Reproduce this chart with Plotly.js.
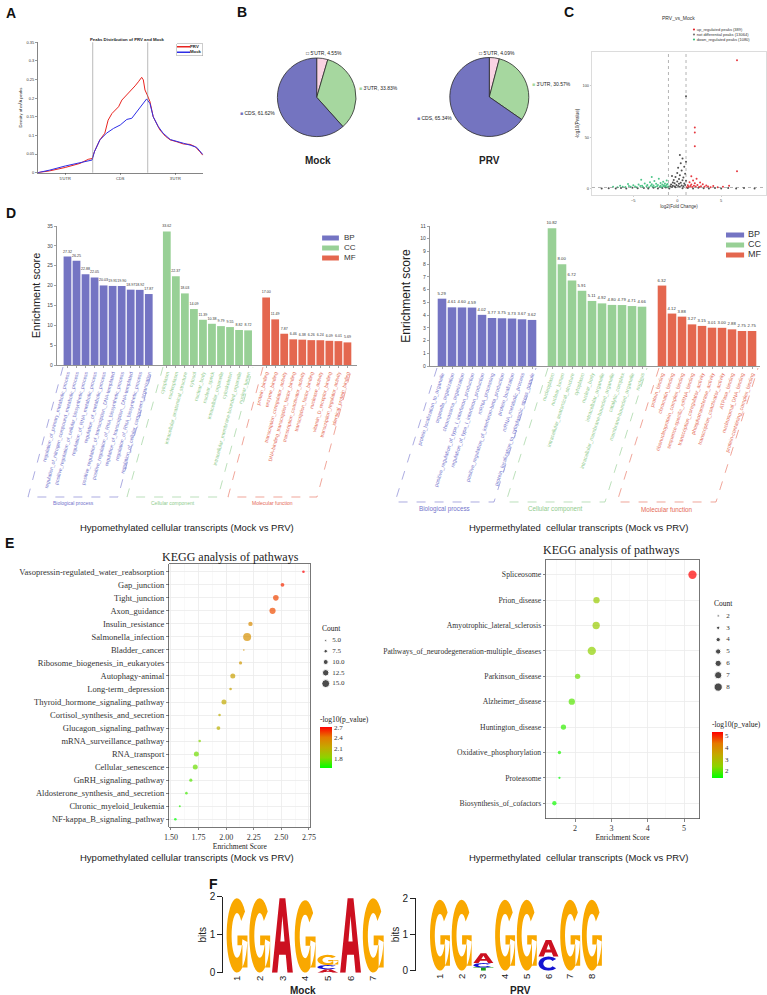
<!DOCTYPE html>
<html lang="en">
<head>
<meta charset="UTF-8">
<title>m6A peak figure</title>
<script src="https://cdn.plot.ly/plotly-3.0.1.min.js"></script>
<style>
  body { margin: 0; background: #fff; }
  #plot { width: 767px; height: 995px; }
</style>
</head>
<body>
<div id="plot"></div>
<script>
// ---------- data ----------
// A: peak density along transcript (0-1 5'UTR, 1-2 CDS, 2-3 3'UTR)
const regionLabels = ["5'UTR", 'CDS', "3'UTR"];
const regionEdges = [0, 1, 2, 3];
const prvX = [0, 0.22, 0.50, 0.77, 0.92, 0.99, 1.03, 1.13, 1.22, 1.28, 1.35, 1.41, 1.47, 1.53, 1.59, 1.65, 1.71, 1.77, 1.83, 1.89, 1.92, 1.95, 1.99, 2.04, 2.10, 2.16, 2.22, 2.32, 2.41, 2.53, 2.65, 2.77, 2.86, 2.95, 3.0];
const prvY = [0, 0.005, 0.014, 0.025, 0.036, 0.038, 0.056, 0.088, 0.106, 0.141, 0.159, 0.168, 0.177, 0.195, 0.204, 0.213, 0.224, 0.233, 0.244, 0.256, 0.249, 0.222, 0.209, 0.191, 0.150, 0.132, 0.115, 0.098, 0.088, 0.083, 0.077, 0.076, 0.070, 0.056, 0.047];
const mockX = [0, 0.22, 0.50, 0.77, 0.99, 1.03, 1.13, 1.25, 1.38, 1.50, 1.62, 1.71, 1.80, 1.89, 1.98, 2.04, 2.10, 2.19, 2.28, 2.41, 2.53, 2.65, 2.77, 2.89, 3.0];
const mockY = [0, 0.007, 0.018, 0.027, 0.034, 0.056, 0.088, 0.106, 0.119, 0.128, 0.143, 0.146, 0.164, 0.179, 0.198, 0.186, 0.150, 0.124, 0.106, 0.089, 0.083, 0.079, 0.074, 0.068, 0.049];
const aKeyNames = ['PRV', 'Mock'];

// B: peak location share (%)
const pieLabels = ["5'UTR", "3'UTR", 'CDS'];
const mockPie = [4.55, 33.83, 61.62];
const prvPie = [4.09, 30.57, 65.34];

// C: volcano, [log2FC, -log10 p]
const downPts = [[-6.8,1.5],[-6.2,2.1],[-5.9,1.7],[-5.5,2.8],[-5.3,1.9],[-5.0,3.4],[-4.8,2.2],[-4.6,1.6],[-4.4,4.1],[-4.2,2.7],[-4.0,3.0],[-3.9,1.8],[-3.7,5.2],[-3.5,2.4],[-3.4,3.7],[-3.2,1.6],[-3.1,6.3],[-3.0,2.9],[-2.9,4.4],[-2.8,2.0],[-2.7,3.3],[-2.6,7.5],[-2.5,1.7],[-2.4,4.9],[-2.3,2.6],[-2.2,3.8],[-2.1,9.8],[-2.0,2.1],[-1.9,5.6],[-1.9,3.0],[-1.8,1.5],[-1.7,4.2],[-1.6,2.4],[-1.6,6.8],[-1.5,3.5],[-1.4,1.9],[-1.4,5.1],[-1.3,2.7],[-1.2,8.2],[-1.2,3.9],[-1.1,1.6],[-1.1,4.6],[-1.0,2.2],[-2.9,11.5],[-4.1,8.9],[-5.6,4.8],[-6.5,3.1],[-7.3,2.0]];
const flatPts = [[-8.6,0.3],[-7.8,0.6],[-7.0,0.2],[-6.4,0.9],[-5.8,0.4],[-5.1,1.1],[-4.5,0.5],[-3.8,0.8],[-3.3,0.2],[-2.7,1.0],[-2.2,0.4],[-1.7,0.7],[-1.3,1.2],[-0.9,0.3],[-0.8,2.5],[-0.7,4.1],[-0.6,1.8],[-0.5,6.2],[-0.5,3.0],[-0.4,8.5],[-0.3,2.2],[-0.3,5.4],[-0.2,11.6],[-0.2,1.5],[-0.1,3.8],[0.0,7.1],[0.0,15.3],[0.1,2.7],[0.1,20.4],[0.2,4.9],[0.2,9.6],[0.3,1.9],[0.3,13.2],[0.4,24.8],[0.4,6.0],[0.5,3.3],[0.5,17.9],[0.6,8.3],[0.6,29.5],[0.7,2.4],[0.7,11.0],[0.8,5.2],[0.8,21.5],[0.9,3.6],[0.9,14.7],[1.0,90.0],[1.0,26.3],[1.0,7.8],[0.6,0.5],[1.2,0.9],[1.8,0.3],[2.4,1.1],[3.0,0.6],[3.6,0.2],[4.3,0.9],[5.0,0.4],[5.8,0.7],[6.7,0.3],[7.6,0.8],[8.8,0.2],[-0.6,12.4],[0.3,33.0]];
const upPts = [[1.1,1.6],[1.2,3.4],[1.3,2.1],[1.4,6.5],[1.5,2.8],[1.6,4.2],[1.7,1.8],[1.8,8.1],[1.9,3.1],[2.0,5.4],[2.1,2.3],[2.2,9.7],[2.3,3.8],[2.5,1.7],[2.6,6.1],[2.7,2.6],[2.9,4.5],[3.1,1.9],[3.3,3.2],[3.5,2.2],[3.8,1.6],[4.1,2.7],[4.6,1.5],[5.2,2.0],[2.0,59.6],[2.0,54.8],[2.0,41.3],[6.8,125.0],[6.8,17.0],[1.6,12.3],[5.9,3.1]];
const volcanoNames = ['up_regulated peaks (389)', 'not differential peaks (13064)', 'down_regulated peaks (1080)'];
const fcCut = [-1, 1];
const pCut = 1.3;

// D: GO enrichment
const goTypes = ['BP', 'CC', 'MF'];
const goGroupNames = ['Biological process', 'Cellular component', 'Molecular function'];
const hypoBP = [27.32, 26.25, 22.88, 22.05, 20.03, 19.91, 19.90, 18.97, 18.92, 17.87];
const hypoCC = [33.62, 22.37, 18.03, 14.09, 11.39, 10.38, 9.79, 9.55, 8.82, 8.72];
const hypoMF = [17.00, 11.49, 7.87, 6.46, 6.38, 6.26, 6.24, 6.09, 6.01, 5.69];
const hypoBPTerms = ['regulation_of_primary_metabolic_process', 'regulation_of_nitrogen_compound_metabolic_process', 'positive_regulation_of_cellular_biosynthetic_process', 'regulation_of_RNA_metabolic_process', 'regulation_of_metabolic_process', 'positive_regulation_of_transcription,_DNA-templated', 'positive_regulation_of_RNA_biosynthetic_process', 'regulation_of_transcription,_DNA-templated', 'regulation_of_RNA_biosynthetic_process', 'regulation_of_cellular_component_organization'];
const hypoCCTerms = ['cytoplasm', 'nucleoplasm', 'intracellular_anatomical_structure', 'cytosol', 'nuclear_body', 'nuclear_speck', 'intracellular_organelle', 'cytoskeleton', 'intracellular_membrane-bounded_organelle', 'nuclear_lumen'];
const hypoMFTerms = ['protein_binding', 'enzyme_binding', 'transcription_coregulator_activity', 'DNA-binding_transcription_factor_binding', 'transcription_coactivator_activity', 'transcription_factor_binding', 'nuclease_activity', 'vitamin_D_receptor_binding', 'transcription_regulator_activity', 'identical_protein_binding'];
const hyperBP = [5.29, 4.61, 4.60, 4.59, 4.02, 3.77, 3.75, 3.73, 3.67, 3.62];
const hyperCC = [10.82, 8.00, 6.72, 5.91, 5.11, 4.92, 4.80, 4.79, 4.71, 4.66];
const hyperMF = [6.32, 4.12, 3.88, 3.27, 3.15, 3.01, 3.00, 2.88, 2.75, 2.75];
const hyperBPTerms = ['protein_localization_to_organelle', 'organelle_organization', 'chromosome_organization', 'positive_regulation_of_type_I_interferon_production', 'regulation_of_type_I_interferon_production', 'mRNA_processing', 'positive_regulation_of_interferon-beta_production', 'protein_localization', 'mRNA_metabolic_process', 'protein_localization_to_cytoplasmic_stress_granule'];
const hyperCCTerms = ['nucleoplasm', 'nuclear_lumen', 'intracellular_anatomical_structure', 'cytoplasm', 'nuclear_body', 'intracellular_organelle', 'intracellular_membrane-bounded_organelle', 'catalytic_complex', 'membrane-bounded_organelle', 'nucleus'];
const hyperMFTerms = ['protein_binding', 'chromatin_binding', 'ribonucleoprotein_complex_binding', 'sequence-specific_mRNA_binding', 'transcription_coregulator_activity', 'phosphotransferase_activity', 'transcription_coactivator_activity', 'ATPase_binding', 'nucleosomal_DNA_binding', 'protein-containing_complex_binding'];

// E: KEGG dot plots
const hypoPathways = ['Vasopressin-regulated_water_reabsorption', 'Gap_junction', 'Tight_junction', 'Axon_guidance', 'Insulin_resistance', 'Salmonella_infection', 'Bladder_cancer', 'Ribosome_biogenesis_in_eukaryotes', 'Autophagy-animal', 'Long-term_depression', 'Thyroid_hormone_signaling_pathway', 'Cortisol_synthesis_and_secretion', 'Glucagon_signaling_pathway', 'mRNA_surveillance_pathway', 'RNA_transport', 'Cellular_senescence', 'GnRH_signaling_pathway', 'Aldosterone_synthesis_and_secretion', 'Chronic_myeloid_leukemia', 'NF-kappa_B_signaling_pathway'];
const hypoScore = [2.70, 2.51, 2.45, 2.42, 2.22, 2.19, 2.16, 2.13, 2.06, 2.04, 1.98, 1.94, 1.93, 1.76, 1.73, 1.72, 1.68, 1.64, 1.58, 1.54];
const hypoCount = [6, 8, 11, 12, 9, 15, 4, 7, 10, 6, 10, 6, 8, 6, 10, 10, 7, 6, 5, 6];
const hypoLogP = [2.72, 2.62, 2.55, 2.53, 2.32, 2.28, 2.27, 2.24, 2.18, 2.17, 2.12, 2.09, 2.08, 1.80, 1.76, 1.75, 1.70, 1.66, 1.60, 1.52];
const hypoCountKey = [5, 7.5, 10, 12.5, 15];
const hyperPathways = ['Spliceosome', 'Prion_disease', 'Amyotrophic_lateral_sclerosis', 'Pathways_of_neurodegeneration-multiple_diseases', 'Parkinson_disease', 'Alzheimer_disease', 'Huntington_disease', 'Oxidative_phosphorylation', 'Proteasome', 'Biosynthesis_of_cofactors'];
const hyperScore = [5.23, 2.59, 2.58, 2.46, 2.07, 1.91, 1.68, 1.57, 1.57, 1.43];
const hyperCount = [8, 6, 7, 8, 5, 6, 5, 3, 2, 4];
const hyperLogP = [5.33, 2.62, 2.60, 2.45, 2.15, 2.0, 1.75, 1.6, 1.4, 1.5];
const hyperCountKey = [2, 3, 4, 5, 6, 7, 8];

// F: motif logos (bits per letter and position)
const mockLogo = {
  A: [0, 0, 1.96, 0, 0.09, 1.96, 0],
  C: [0, 0, 0, 0, 0.11, 0, 0],
  G: [1.96, 1.96, 0, 1.91, 0.27, 0, 1.96],
  T: [0, 0, 0, 0, 0, 0, 0]
};
const prvLogo = {
  A: [0, 0, 0.27, 0, 0, 0.46, 0, 0],
  C: [0, 0, 0.12, 0, 0, 0.39, 0, 0],
  G: [1.96, 1.96, 0, 1.96, 1.96, 0, 1.96, 1.96],
  T: [0, 0, 0.09, 0, 0, 0, 0, 0]
};

// ---------- helpers ----------
const W = 767, H = 995;
const SANS = "'Liberation Sans', Arial, sans-serif";
const SERIF = "'Liberation Serif', 'Times New Roman', serif";
const fx = p => p / W;
const fy = p => 1 - p / H;
const dx = (a, b) => [fx(a), fx(b)];
const dy = (top, bottom) => [fy(bottom), fy(top)];

const red = '#E8231F', blue = '#2E2EE6';
const goColors = ['#7474C3', '#98D096', '#E4674F'];
const goTextColors = ['#7474CC', '#8FCB8D', '#E56A55'];
const pieColors = ['#F9D3E3', '#A6D79F', '#7474C0'];
const keggScale = [[0, '#00FF00'], [0.25, '#8CD400'], [0.5, '#C2AA00'], [0.75, '#E57A00'], [1, '#FF0000']];
const letterColors = {A: '#CC1020', C: '#1414D2', G: '#F9A800', T: '#13A013'};

const layout = {
  width: W, height: H, autosize: false,
  margin: {l: 0, r: 0, t: 0, b: 0, pad: 0},
  paper_bgcolor: '#fff', plot_bgcolor: '#fff',
  barmode: 'overlay', showlegend: false,
  font: {family: SANS, color: '#222'},
  shapes: [], annotations: []
};
const id = n => n === 1 ? '' : String(n);
function axis(domain, range, extra) {
  return Object.assign({domain: domain, range: range, showgrid: false, zeroline: false,
    showline: false, ticks: '', showticklabels: false, fixedrange: true}, extra || {});
}
function setPair(n, xa, ya) {
  layout['xaxis' + id(n)] = Object.assign({anchor: 'y' + id(n)}, xa);
  layout['yaxis' + id(n)] = Object.assign({anchor: 'x' + id(n)}, ya);
}
function note(text, x, y, opts) {
  layout.annotations.push(Object.assign({text: text, x: fx(x), y: fy(y), xref: 'paper', yref: 'paper',
    showarrow: false, xanchor: 'center', yanchor: 'middle', font: {family: SANS, size: 10, color: '#1a1a1a'}}, opts || {}));
}
const traces = [];

// ---------- A ----------
const regionMid = regionLabels.map((_, i) => (regionEdges[i] + regionEdges[i + 1]) / 2);
const thin = {showline: true, linecolor: '#333', linewidth: 0.6, ticks: 'outside', ticklen: 2, tickwidth: 0.5, tickcolor: '#333', showticklabels: true};
setPair(1,
  axis(dx(37.7, 203.3), [0, 3.01], Object.assign({}, thin, {tickvals: regionMid, ticktext: regionLabels, tickfont: {size: 4, color: '#333'}})),
  axis(dy(42.3, 172.7), [0, 0.35], Object.assign({}, thin, {dtick: 0.05, tickfont: {size: 4, color: '#333'},
    title: {text: 'Density of m<sup>6</sup>A peaks', font: {size: 4.2}, standoff: 3}})));
traces.push({x: prvX, y: prvY, xaxis: 'x', yaxis: 'y', mode: 'lines', line: {color: red, width: 1}, hoverinfo: 'skip'});
traces.push({x: mockX, y: mockY, xaxis: 'x', yaxis: 'y', mode: 'lines', line: {color: blue, width: 1}, hoverinfo: 'skip'});
regionEdges.slice(1, -1).forEach(e => layout.shapes.push({type: 'line', xref: 'x', yref: 'y domain', x0: e, x1: e, y0: 0, y1: 1, line: {color: '#8a8a8a', width: 0.6}}));
note('<b>Peaks Distribution of PRV and Mock</b>', 127, 39, {font: {family: SANS, size: 4.3, color: '#222'}});
// A key
const boxLine = {showline: true, mirror: true, linecolor: '#999', linewidth: 0.5};
setPair(2, axis(dx(177, 202), [0, 1], boxLine), axis(dy(43.5, 55.5), [1.6, -0.6], boxLine));
traces.push({x: aKeyNames.map(() => 0.24), y: aKeyNames.map((_, i) => i), xaxis: 'x2', yaxis: 'y2', mode: 'markers',
  marker: {symbol: 'line-ew', size: 10, line: {color: [red, blue], width: 1.3}}, hoverinfo: 'skip'});
traces.push({x: aKeyNames.map(() => 0.52), y: aKeyNames.map((_, i) => i), xaxis: 'x2', yaxis: 'y2', mode: 'text',
  text: aKeyNames.map(t => '<b>' + t + '</b>'), textposition: 'middle right', textfont: {size: 4.3, color: '#222'}, hoverinfo: 'skip'});

// ---------- B ----------
function pieTrace(values, xd, yd) {
  return {type: 'pie', labels: pieLabels, values: values, sort: false, direction: 'clockwise', rotation: 0,
    domain: {x: xd, y: yd}, marker: {colors: pieColors, line: {color: '#2a2a2a', width: 0.8}},
    textinfo: 'none', hoverinfo: 'label+percent', showlegend: false};
}
traces.push(pieTrace(mockPie, dx(277.4, 356), dy(58, 136.6)));
traces.push(pieTrace(prvPie, dx(449.8, 528.8), dy(57.5, 136.5)));
function pieNote(values, i, x, y, anchor) {
  const sq = '<span style="color:' + pieColors[i] + '">■</span>';
  const txt = (i === 0 ? '□' : sq) + ' ' + pieLabels[i] + ', ' + values[i].toFixed(2) + '%';
  note(txt, x, y, {xanchor: anchor, font: {family: SANS, size: 5, color: '#222'}});
}
pieNote(mockPie, 0, 304, 53.5, 'left');
pieNote(mockPie, 1, 357, 88, 'left');
pieNote(mockPie, 2, 277, 113, 'right');
pieNote(prvPie, 0, 477, 53.5, 'left');
pieNote(prvPie, 1, 530, 84, 'left');
pieNote(prvPie, 2, 454, 117.5, 'right');
note('<b>Mock</b>', 318, 160, {font: {family: SANS, size: 10, color: '#222'}});
note('<b>PRV</b>', 489, 160, {font: {family: SANS, size: 10, color: '#222'}});

// ---------- C ----------
const frameC = {showline: true, mirror: true, linecolor: '#c4c4c4', linewidth: 0.6, ticks: 'outside', ticklen: 1.5,
  tickcolor: '#999', tickwidth: 0.5, showticklabels: true};
setPair(3,
  axis(dx(592, 766), [-9.7, 10.1], Object.assign({}, frameC, {tickvals: [-5, 0, 5], tickfont: {size: 4, color: '#444'},
    title: {text: 'log2(Fold Change)', font: {size: 4.5, color: '#333'}, standoff: 2}})),
  axis(dy(52, 195), [-6, 133], Object.assign({}, frameC, {tickvals: [0, 50, 100], tickfont: {size: 4, color: '#444'},
    title: {text: '-log10(Pvalue)', font: {size: 4.5, color: '#333'}, standoff: 2}})));
const volcanoSets = [[flatPts, '#3d3d3d'], [downPts, '#3CBF7C'], [upPts, '#E3242B']];
volcanoSets.forEach(([pts, col]) => traces.push({x: pts.map(p => p[0]), y: pts.map(p => p[1]), xaxis: 'x3', yaxis: 'y3',
  mode: 'markers', marker: {size: 2, color: col, opacity: 0.9}, hoverinfo: 'skip'}));
fcCut.forEach(c => layout.shapes.push({type: 'line', xref: 'x3', yref: 'y3 domain', x0: c, x1: c, y0: 0, y1: 1, line: {color: '#666', width: 0.5, dash: 'dot'}}));
layout.shapes.push({type: 'line', xref: 'x3 domain', yref: 'y3', x0: 0, x1: 1, y0: pCut, y1: pCut, line: {color: '#666', width: 0.5, dash: 'dot'}});
note('PRV_vs_Mock', 678, 18, {font: {family: SANS, size: 5, color: '#333'}});
setPair(4, axis(dx(690, 765), [0, 1]), axis(dy(27, 42), [2.5, -0.5]));
traces.push({x: volcanoNames.map(() => 0.053), y: volcanoNames.map((_, i) => i), xaxis: 'x4', yaxis: 'y4', mode: 'markers',
  marker: {size: 2.2, color: ['#E3242B', '#777', '#3CBF7C']}, hoverinfo: 'skip'});
traces.push({x: volcanoNames.map(() => 0.09), y: volcanoNames.map((_, i) => i), xaxis: 'x4', yaxis: 'y4', mode: 'text',
  text: volcanoNames, textposition: 'middle right', textfont: {size: 4, color: '#333'}, hoverinfo: 'skip'});

// ---------- D ----------
function goPanel(n, vals, terms, xDom, xRange, yDom, yMax, angle, labelSize, valSize, titleSize, standoff) {
  const tickvals = [], ticktext = [];
  goTypes.forEach((g, gi) => {
    const xs = vals[gi].map((_, i) => gi * 11 + i);
    xs.forEach((x, i) => { tickvals.push(x); ticktext.push('<span style="color:' + goTextColors[gi] + '">' + terms[gi][i] + '</span>'); });
    traces.push({type: 'bar', x: xs, y: vals[gi], xaxis: 'x' + n, yaxis: 'y' + n, width: 0.86,
      marker: {color: goColors[gi], line: {width: 0}}, text: vals[gi].map(v => v.toFixed(2)), textposition: 'outside',
      textangle: 0, constraintext: 'none', cliponaxis: false, textfont: {size: valSize, family: SANS, color: '#333'}, hoverinfo: 'y'});
  });
  const ln = {showline: true, linecolor: '#666', linewidth: 0.7, ticks: 'outside', ticklen: 2.5, tickwidth: 0.6, tickcolor: '#666', showticklabels: true};
  setPair(n,
    axis(xDom, xRange, Object.assign({}, ln, {tickvals: tickvals, ticktext: ticktext, tickangle: angle, tickfont: {size: labelSize, family: SANS}})),
    axis(yDom, [0, yMax], Object.assign({}, ln, {dtick: yMax > 20 ? 5 : 1, tickfont: {size: 5, color: '#444'},
      title: {text: 'Enrichment score', font: {size: titleSize, color: '#222'}, standoff: standoff}})));
}
goPanel(5, [hypoBP, hypoCC, hypoMF], [hypoBPTerms, hypoCCTerms, hypoMFTerms], dx(57, 357), [-1.16, 32.06], dy(226, 365), 35, -75, 5, 3.6, 11, 4);
goPanel(7, [hyperBP, hyperCC, hyperMF], [hyperBPTerms, hyperCCTerms, hyperMFTerms], dx(430, 760), [-1.2, 31.8], dy(226, 366), 11, -72, 5.2, 4.2, 12, 6);
function goKey(n, xDom, yDom, xMark, xText, size, fontSize) {
  setPair(n, axis(xDom, [0, 1]), axis(yDom, [2.5, -0.5]));
  traces.push({x: goTypes.map(() => xMark), y: goTypes.map((_, i) => i), xaxis: 'x' + n, yaxis: 'y' + n, mode: 'markers',
    marker: {symbol: 'line-ew', size: size, line: {color: goColors, width: 5}}, hoverinfo: 'skip'});
  traces.push({x: goTypes.map(() => xText), y: goTypes.map((_, i) => i), xaxis: 'x' + n, yaxis: 'y' + n, mode: 'text',
    text: goTypes, textposition: 'middle right', textfont: {size: fontSize, color: '#333'}, hoverinfo: 'skip'});
}
goKey(6, dx(322, 372), dy(233, 263), 0.17, 0.44, 12, 8);
goKey(8, dx(726, 766), dy(230, 260), 0.225, 0.55, 13, 9);
// dashed label boxes
function goBoxes(boxes, nameY, nameSize) {
  boxes.forEach((b, gi) => {
    layout.shapes.push({type: 'path', xref: 'paper', yref: 'paper',
      path: 'M' + b.map(p => fx(p[0]).toFixed(5) + ',' + fy(p[1]).toFixed(5)).join('L'),
      line: {color: goTextColors[gi], width: 0.6, dash: 'dash'}});
    note(goGroupNames[gi], (b[1][0] + b[2][0]) / 2, nameY, {font: {family: SANS, size: nameSize, color: goTextColors[gi]}});
  });
}
goBoxes([[[63, 367], [28, 497], [118, 497], [153, 367]], [[163, 367], [127, 497], [218, 497], [253, 367]], [[263, 367], [228, 497], [317, 497], [352, 367]]], 503, 5);
goBoxes([[[437, 368], [395, 502], [494, 502], [536, 368]], [[548, 368], [506, 502], [605, 502], [647, 368]], [[659, 368], [617, 502], [716, 502], [758, 368]]], 509, 6.3);
note('Hypomethylated cellular transcripts (Mock vs PRV)', 187, 527, {font: {family: SANS, size: 9.5, color: '#1a1a1a'}});
note('Hypermethylated  cellular transcripts (Mock vs PRV)', 578, 527, {font: {family: SANS, size: 9.5, color: '#1a1a1a'}});

// ---------- E ----------
function keggPanel(n, names, score, count, logp, sizeFn, xDom, xRange, yDom, tick0, dtick, fmt, labelSize, cmin, cmax, cb) {
  const frame = {showline: true, mirror: true, linecolor: '#555', linewidth: 0.8, showgrid: true, gridcolor: '#EBEBEB', gridwidth: 0.8,
    ticks: 'outside', ticklen: 2.5, tickwidth: 0.6, tickcolor: '#333', showticklabels: true};
  setPair(n,
    axis(xDom, xRange, Object.assign({}, frame, {tick0: tick0, dtick: dtick, tickformat: fmt,
      minor: {tick0: tick0, dtick: dtick / 2, showgrid: true, gridcolor: '#F3F3F3', gridwidth: 0.5, ticks: ''},
      tickfont: {family: SERIF, size: 8, color: '#333'}, title: {text: 'Enrichment Score', font: {family: SERIF, size: 7.5, color: '#222'}, standoff: 2}})),
    axis(yDom, [names.length - 0.4, -0.6], Object.assign({}, frame, {tickvals: names.map((_, i) => i), ticktext: names,
      tickfont: {family: SERIF, size: labelSize, color: '#333'}})));
  traces.push({x: score, y: names.map((_, i) => i), xaxis: 'x' + n, yaxis: 'y' + n, mode: 'markers', cliponaxis: false,
    marker: {size: count.map(sizeFn), color: logp, colorscale: keggScale, cmin: cmin, cmax: cmax, showscale: true, line: {width: 0},
      colorbar: Object.assign({xanchor: 'left', yanchor: 'middle', lenmode: 'pixels', thicknessmode: 'pixels', xpad: 0, ypad: 0,
        outlinewidth: 0, ticks: '', tickfont: {family: SERIF, size: 7, color: '#333'},
        title: {text: '-log10(p_value)', side: 'top', font: {family: SERIF, size: 7.5, color: '#222'}}}, cb)},
    hoverinfo: 'x+y'});
}
const hypoSize = c => Math.max(1.6, 2 + (c - 5) * 0.6);
const hyperSize = c => c + 0.3;
keggPanel(9, hypoPathways, hypoScore, hypoCount, hypoLogP, hypoSize, dx(169.3, 310.3), [1.485, 2.762], dy(564, 827), 1.5, 0.25, '.2f', 8.5, 1.52, 2.72,
  {x: fx(320), y: fy(740.5), len: 55, thickness: 12, tickvals: [1.8, 2.1, 2.4, 2.7]});
keggPanel(11, hyperPathways, hyperScore, hyperCount, hyperLogP, hyperSize, dx(546, 699), [1.2, 5.41], dy(559.5, 818.5), 2, 1, 'd', 7.7, 1.4, 5.33,
  {x: fx(712), y: fy(748), len: 60, thickness: 11, tickvals: [2, 3, 4, 5]});
function countKey(n, counts, sizeFn, labels, xDom, yDom, xMin, xText) {
  setPair(n, axis(xDom, [xMin, 1]), axis(yDom, [counts.length - 0.5, -0.5]));
  traces.push({x: counts.map(() => 0), y: counts.map((_, i) => i), xaxis: 'x' + n, yaxis: 'y' + n, mode: 'markers',
    marker: {size: counts.map(sizeFn), color: '#000'}, hoverinfo: 'skip'});
  traces.push({x: counts.map(() => xText), y: counts.map((_, i) => i), xaxis: 'x' + n, yaxis: 'y' + n, mode: 'text',
    text: labels, textposition: 'middle right', textfont: {family: SERIF, size: 7, color: '#333'}, hoverinfo: 'skip'});
}
countKey(10, hypoCountKey, hypoSize, hypoCountKey.map(c => c.toFixed(1)), dx(322, 372), dy(635, 689), -0.08, 0.14);
countKey(12, hyperCountKey, hyperSize, hyperCountKey.map(String), dx(714, 760), dy(610, 693), -0.1, 0.19);
note('Count', 320, 628, {xanchor: 'left', font: {family: SERIF, size: 7.5, color: '#222'}});
note('Count', 712, 603, {xanchor: 'left', font: {family: SERIF, size: 7.5, color: '#222'}});
note('KEGG analysis of pathways', 230, 557, {font: {family: SERIF, size: 12, color: '#222'}});
note('KEGG analysis of pathways', 611, 550, {font: {family: SERIF, size: 12, color: '#222'}});
note('Hypomethylated cellular transcripts (Mock vs PRV)', 187, 857, {font: {family: SANS, size: 9.5, color: '#1a1a1a'}});
note('Hypermethylated  cellular transcripts (Mock vs PRV)', 578, 857, {font: {family: SANS, size: 9.5, color: '#1a1a1a'}});

// ---------- F ----------
function arc(cx, cy, rx, ry, a0, a1, steps) {
  const pts = [];
  for (let k = 0; k <= steps; k++) {
    const a = (a0 + (a1 - a0) * k / steps) * Math.PI / 180;
    pts.push([cx + rx * Math.cos(a), cy + ry * Math.sin(a)]);
  }
  return pts;
}
// letter outlines in a unit box
const glyphs = {
  A: [[[0, 0], [0.36, 1], [0.64, 1], [1, 0], [0.74, 0], [0.66, 0.24], [0.34, 0.24], [0.26, 0]], [[0.4, 0.42], [0.6, 0.42], [0.5, 0.76]]],
  C: [arc(0.5, 0.5, 0.5, 0.5, 40, 320, 28).concat(arc(0.5, 0.5, 0.26, 0.3, 320, 40, 24))],
  G: [arc(0.5, 0.5, 0.5, 0.5, 40, 350, 30).concat(arc(0.5, 0.5, 0.26, 0.3, 350, 40, 24)),
      [[0.52, 0.5], [0.52, 0.37], [0.76, 0.37], [0.76, 0.07], [1, 0.07], [1, 0.5]]],
  T: [[[0, 1], [1, 1], [1, 0.84], [0.62, 0.84], [0.62, 0], [0.38, 0], [0.38, 0.84], [0, 0.84]]]
};
function logo(n, heights, xDom, xRange, yDom, name, nameX) {
  const npos = heights.A.length;
  const positions = heights.A.map((_, i) => i + 1);
  setPair(n,
    axis(xDom, xRange, {showticklabels: true, tickvals: positions, ticktext: positions.map(String), tickangle: -90,
      tickfont: {size: 9.5, family: SANS, color: '#222'}}),
    axis(yDom, [0, 2], {showline: true, linecolor: '#222', linewidth: 1, ticks: 'outside', ticklen: 5, tickwidth: 1, tickcolor: '#222',
      showticklabels: true, tickvals: [0, 1, 2], tickfont: {size: 10, color: '#222'}, title: {text: 'bits', font: {size: 10, color: '#222'}, standoff: 1}}));
  traces.push({x: positions, y: positions.map(() => 0), xaxis: 'x' + n, yaxis: 'y' + n, mode: 'markers', marker: {opacity: 0}, hoverinfo: 'skip'});
  const w = 0.92;
  for (let i = 0; i < npos; i++) {
    const stack = Object.keys(heights).map(L => [L, heights[L][i]]).filter(d => d[1] > 0).sort((a, b) => a[1] - b[1]);
    let base = 0;
    stack.forEach(([L, h]) => {
      const x0 = positions[i] - w / 2;
      const path = glyphs[L].map(poly => 'M' + poly.map(([gx, gy]) => (x0 + gx * w).toFixed(4) + ',' + (base + gy * h).toFixed(4)).join('L') + 'Z').join(' ');
      layout.shapes.push({type: 'path', xref: 'x' + n, yref: 'y' + n, path: path, fillcolor: letterColors[L], line: {width: 0}});
      base += h;
    });
  }
  note('<b>' + name + '</b>', nameX, 990, {font: {family: SANS, size: 10, color: '#222'}});
}
logo(13, mockLogo, dx(223.4, 384.6), [0.4, 7.5], dy(896.7, 972.7), 'Mock', 303);
logo(14, prvLogo, dx(416.1, 602.75), [-0.1, 8.5], dy(898.3, 970.7), 'PRV', 520);

// ---------- panel letters ----------
[['A', 11, 13], ['B', 242, 12], ['C', 569, 12], ['D', 11, 213], ['E', 9, 543], ['F', 213, 884]].forEach(([t, x, y]) =>
  note('<b>' + t + '</b>', x, y, {font: {family: SANS, size: 14, color: '#111'}}));

Plotly.newPlot('plot', traces, layout, {displayModeBar: false, staticPlot: true});
</script>
</body>
</html>
